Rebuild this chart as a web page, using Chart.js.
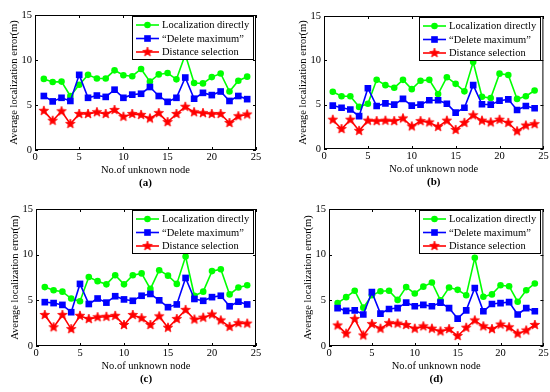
<!DOCTYPE html>
<html>
<head>
<meta charset="utf-8">
<script src="https://cdn.jsdelivr.net/npm/chart.js@4.4.0/dist/chart.umd.min.js"></script>
<style>
  html, body { margin: 0; padding: 0; background: #fff; }
  #wrap { position: relative; width: 550px; height: 392px; }
  #wrap canvas { position: absolute; }
</style>
</head>
<body>
<div id="wrap">
  <canvas id="chartA" width="275" height="196" style="left:0;top:0"></canvas>
  <canvas id="chartB" width="275" height="196" style="left:275px;top:0"></canvas>
  <canvas id="chartC" width="275" height="196" style="left:0;top:196px"></canvas>
  <canvas id="chartD" width="275" height="196" style="left:275px;top:196px"></canvas>
</div>
<script>
const nodes = [1, 2, 3, 4, 5, 6, 7, 8, 9, 10, 11, 12, 13, 14, 15, 16, 17, 18, 19, 20, 21, 22, 23, 24];
const seriesLabels = ["Localization directly", "\u201cDelete maximum\u201d", "Distance selection"];
const xTitle = "No.of unknown node";
const yTitle = "Average localization error(m)";

// (a)
const directA = [7.9, 7.55, 7.6, 6.0, 7.25, 8.35, 7.95, 7.95, 8.85, 8.3, 8.2, 9.0, 7.6, 8.4, 8.55, 7.85, 10.6, 7.45, 7.4, 8.1, 8.5, 6.5, 7.7, 8.15];
const deleteA = [6.0, 5.4, 5.8, 5.45, 8.35, 5.8, 6.05, 5.9, 6.7, 5.8, 6.15, 6.25, 7.0, 6.0, 5.35, 5.8, 8.05, 5.7, 6.35, 6.1, 6.5, 5.45, 6.0, 5.65];
const distA = [4.35, 3.25, 4.3, 2.9, 4.0, 4.0, 4.2, 4.0, 4.45, 3.7, 4.0, 3.9, 3.5, 4.1, 3.1, 4.0, 4.8, 4.2, 4.1, 4.0, 4.0, 3.0, 3.75, 3.95];
// (b)
const directB = [6.45, 5.95, 5.95, 4.75, 5.1, 7.8, 7.2, 6.9, 7.8, 6.75, 7.7, 7.8, 6.2, 8.1, 7.35, 6.5, 9.8, 5.9, 5.75, 8.5, 8.35, 5.65, 5.95, 6.6];
const deleteB = [4.9, 4.65, 4.45, 3.7, 6.85, 4.85, 5.15, 5.0, 5.65, 4.9, 5.0, 5.5, 5.5, 5.1, 4.1, 4.65, 7.2, 5.05, 5.0, 5.45, 5.6, 4.4, 4.85, 4.6];
const distB = [3.3, 2.25, 3.3, 2.05, 3.2, 3.15, 3.2, 3.15, 3.45, 2.55, 3.15, 3.0, 2.5, 3.2, 2.15, 2.95, 3.8, 3.2, 3.0, 3.3, 2.95, 2.0, 2.65, 2.8];
// (c)
const directC = [6.45, 6.1, 5.95, 5.2, 4.9, 7.55, 7.1, 6.75, 7.75, 6.75, 7.75, 7.95, 6.25, 8.3, 7.7, 6.8, 9.8, 5.5, 5.95, 8.2, 8.4, 5.65, 6.4, 6.65];
const deleteC = [4.8, 4.7, 4.5, 3.7, 6.8, 4.6, 5.2, 4.75, 5.45, 5.1, 4.95, 5.5, 5.7, 5.0, 4.25, 4.55, 7.45, 5.15, 4.95, 5.35, 5.5, 4.35, 4.85, 4.55];
const distC = [3.4, 2.05, 3.4, 1.85, 3.3, 2.95, 3.15, 3.2, 3.3, 2.3, 3.4, 3.05, 2.3, 3.25, 2.0, 2.95, 3.95, 2.9, 3.1, 3.45, 2.8, 2.1, 2.5, 2.45];
// (d)
const directD = [4.7, 5.35, 6.05, 4.2, 5.55, 6.0, 6.05, 5.05, 6.45, 5.75, 6.5, 6.95, 5.0, 6.4, 6.15, 5.55, 9.65, 5.4, 5.65, 6.65, 6.55, 4.85, 6.1, 6.85];
const deleteD = [4.15, 3.85, 3.9, 3.45, 5.9, 3.55, 4.05, 4.15, 4.75, 4.35, 4.5, 4.35, 4.75, 4.15, 3.0, 3.9, 6.35, 3.8, 4.6, 4.7, 4.8, 3.45, 4.15, 3.8];
const distD = [2.25, 1.35, 2.95, 1.15, 2.4, 1.9, 2.5, 2.45, 2.3, 1.9, 2.15, 1.9, 1.6, 1.85, 1.1, 2.0, 2.8, 2.15, 1.85, 2.35, 2.05, 1.35, 1.7, 2.3];

Chart.defaults.font.family = "'Liberation Serif', 'Times New Roman', serif";
Chart.defaults.font.size = 10.5;
Chart.defaults.color = "#000";

// filled pentagram like the matlab marker
function starImage(color, r) {
  const c = document.createElement("canvas");
  const s = Math.ceil(r * 2 + 2);
  c.width = s;
  c.height = s;
  const g = c.getContext("2d");
  g.fillStyle = color;
  g.strokeStyle = color;
  g.lineWidth = 0.8;
  g.beginPath();
  for (let i = 0; i < 10; i++) {
    const rad = i % 2 ? r * 0.42 : r;
    const ang = -Math.PI / 2 + i * Math.PI / 5;
    const x = s / 2 + rad * Math.cos(ang);
    const y = s / 2 + rad * Math.sin(ang);
    if (i) g.lineTo(x, y); else g.moveTo(x, y);
  }
  g.closePath();
  g.fill();
  g.stroke();
  return c;
}
const redStar = starImage("#ff0000", 5);

function drawMarker(ctx, ds, x, y) {
  const st = ds.pointStyle;
  if (typeof st === "object") {
    ctx.drawImage(st, x - st.width / 2, y - st.height / 2);
    return;
  }
  ctx.fillStyle = ds.borderColor;
  ctx.beginPath();
  if (st === "circle") {
    ctx.arc(x, y, ds.pointRadius, 0, Math.PI * 2);
  } else {
    const h = ds.pointRadius * Math.SQRT1_2;
    ctx.rect(x - h, y - h, 2 * h, 2 * h);
  }
  ctx.fill();
}

// box, inward ticks, legend and caption
const frame = {
  id: "frame",
  afterDatasetsDraw(chart, args, opts) {
    const { ctx, chartArea: a, scales } = chart;
    ctx.save();
    ctx.strokeStyle = "#000";
    ctx.lineWidth = 1;
    ctx.strokeRect(a.left + 0.5, a.top + 0.5, a.width - 1, a.height - 1);
    const tl = 3;
    ctx.beginPath();
    scales.x.ticks.forEach(t => {
      const px = Math.round(scales.x.getPixelForValue(t.value)) + 0.5;
      ctx.moveTo(px, a.bottom);
      ctx.lineTo(px, a.bottom - tl);
      ctx.moveTo(px, a.top);
      ctx.lineTo(px, a.top + tl);
    });
    scales.y.ticks.forEach(t => {
      const py = Math.round(scales.y.getPixelForValue(t.value)) + 0.5;
      ctx.moveTo(a.left, py);
      ctx.lineTo(a.left + tl, py);
      ctx.moveTo(a.right, py);
      ctx.lineTo(a.right - tl, py);
    });
    ctx.stroke();

    // legend
    ctx.font = "10.5px 'Liberation Serif', serif";
    const sets = chart.data.datasets;
    const textW = Math.max(...sets.map(d => ctx.measureText(d.label).width));
    const padL = 4, lineW = 23, gap = 3, padR = 4;
    const w = Math.round(padL + lineW + gap + textW + padR);
    const h = 43;
    const x0 = Math.round(a.right - 3 - w), y0 = Math.round(a.top + 1);
    ctx.fillStyle = "#fff";
    ctx.fillRect(x0, y0, w, h);
    ctx.strokeRect(x0 + 0.5, y0 + 0.5, w, h);
    sets.forEach((d, i) => {
      const cy = y0 + 9 + i * 13.5;
      ctx.strokeStyle = d.borderColor;
      ctx.lineWidth = d.borderWidth;
      ctx.beginPath();
      ctx.moveTo(x0 + padL, cy);
      ctx.lineTo(x0 + padL + lineW, cy);
      ctx.stroke();
      drawMarker(ctx, d, x0 + padL + lineW / 2, cy);
      ctx.fillStyle = "#000";
      ctx.textBaseline = "middle";
      ctx.textAlign = "left";
      ctx.fillText(d.label, x0 + padL + lineW + gap, cy + 0.5);
    });

    // caption under the plot
    ctx.font = "bold 11px 'Liberation Serif', serif";
    ctx.textAlign = "center";
    ctx.textBaseline = "middle";
    ctx.fillStyle = "#000";
    ctx.fillText(opts.caption, (a.left + a.right) / 2, a.bottom + 33);
    ctx.restore();
  }
};

function makeChart(id, caption, direct, del, dist, area) {
  return new Chart(document.getElementById(id), {
    type: "line",
    data: {
      labels: nodes,
      datasets: [
        {
          label: seriesLabels[0],
          data: direct,
          borderColor: "#00ff00",
          backgroundColor: "#00ff00",
          pointBackgroundColor: "#00ff00",
          pointStyle: "circle",
          pointRadius: 3.3,
          pointBorderWidth: 0,
          borderWidth: 1.6,
          order: 3,
        },
        {
          label: seriesLabels[1],
          data: del,
          borderColor: "#0000ff",
          backgroundColor: "#0000ff",
          pointBackgroundColor: "#0000ff",
          pointStyle: "rect",
          pointRadius: 4.7,
          pointBorderWidth: 0,
          borderWidth: 1.6,
          order: 2,
        },
        {
          label: seriesLabels[2],
          data: dist,
          borderColor: "#ff0000",
          backgroundColor: "#ff0000",
          pointStyle: redStar,
          pointRadius: 5,
          borderWidth: 1.6,
          order: 1,
        },
      ],
    },
    options: {
      responsive: false,
      animation: false,
      layout: {
        padding: { left: 0, top: area.top, right: 275 - area.right, bottom: 196 - area.bottom - 30 },
      },
      plugins: {
        legend: { display: false },
        tooltip: { enabled: false },
        frame: { caption: caption },
      },
      scales: {
        x: {
          type: "linear",
          min: 0,
          max: 25,
          ticks: { stepSize: 5, padding: 1 },
          grid: { display: false, drawTicks: false },
          border: { display: false },
          title: { display: true, text: xTitle, padding: { top: 0, bottom: 3 } },
          afterFit(s) {
            s.height = 30;
            s.paddingLeft = 0;
            s.paddingRight = 0;
          },
        },
        y: {
          min: 0,
          max: 15,
          ticks: { stepSize: 5, padding: 3 },
          grid: { display: false, drawTicks: false },
          border: { display: false },
          title: { display: true, text: yTitle, padding: { top: area.left - 26.8, bottom: 0 } },
          afterFit(s) {
            s.width = area.left;
            s.paddingTop = 0;
            s.paddingBottom = 0;
          },
        },
      },
    },
    plugins: [frame],
  });
}

makeChart("chartA", "(a)", directA, deleteA, distA, { left: 35, right: 256, top: 15, bottom: 150 });
makeChart("chartB", "(b)", directB, deleteB, distB, { left: 49, right: 269, top: 16, bottom: 149 });
makeChart("chartC", "(c)", directC, deleteC, distC, { left: 36, right: 256, top: 13, bottom: 150 });
makeChart("chartD", "(d)", directD, deleteD, distD, { left: 54, right: 273, top: 13, bottom: 150 });
</script>
</body>
</html>
